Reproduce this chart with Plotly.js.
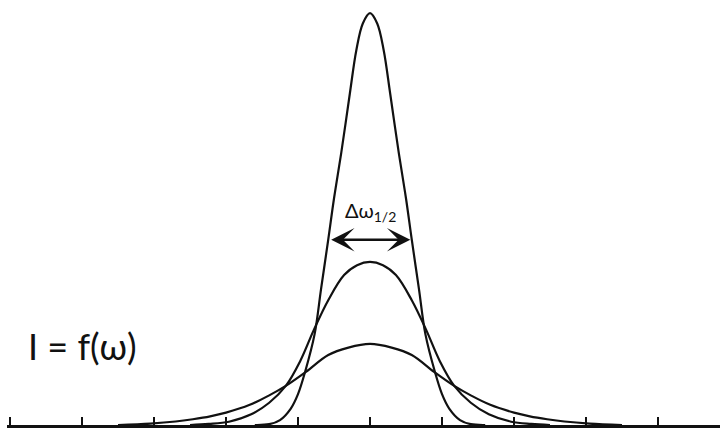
<!DOCTYPE html>
<html>
<head>
<meta charset="utf-8">
<script src="https://cdn.plot.ly/plotly-3.0.1.min.js"></script>
<style>
  html, body { margin: 0; padding: 0; background: #ffffff; }
  #chart { width: 720px; height: 429px; }
</style>
</head>
<body>
<div id="chart"></div>
<script>
// Frequency axis tick positions (no labels in the original)
const tickValues = [0, 1, 2, 3, 4, 5, 6, 7, 8, 9];

// Narrow, tall line profile
const narrowX = [3.4, 3.6, 3.75, 3.9, 4.0, 4.1, 4.23, 4.32, 4.42, 4.5, 4.6, 4.72, 4.81, 4.9, 5.0,
                 5.1, 5.19, 5.28, 5.4, 5.5, 5.58, 5.68, 5.77, 5.9, 6.0, 6.1, 6.25, 6.4, 6.6];
const narrowY = [0, 0.2, 1.2, 4, 7.5, 13, 22, 33, 45, 55, 66, 80.5, 91, 97.5, 100,
                 97.5, 91, 80.5, 66, 55, 45, 33, 22, 13, 7.5, 4, 1.2, 0.2, 0];

// Medium line profile
const mediumX = [2.5, 2.76, 3.04, 3.35, 3.6, 3.83, 4.03, 4.22, 4.42, 4.64, 4.82, 5.0,
                 5.18, 5.36, 5.58, 5.78, 5.97, 6.17, 6.4, 6.65, 6.96, 7.24, 7.5];
const mediumY = [0, 0.25, 0.8, 2.6, 5.4, 9.5, 15.5, 23.1, 30.3, 36.4, 38.8, 39.6,
                 38.8, 36.4, 30.3, 23.1, 15.5, 9.5, 5.4, 2.6, 0.8, 0.25, 0];

// Broad, low line profile
const broadX = [1.5, 1.95, 2.3, 2.54, 2.78, 3.0, 3.33, 3.6, 3.83, 4.11, 4.42, 4.7, 5.0,
                5.3, 5.58, 5.89, 6.17, 6.4, 6.67, 7.0, 7.22, 7.46, 7.7, 8.05, 8.5];
const broadY = [0, 0.35, 0.85, 1.4, 2.1, 3.0, 4.9, 7.2, 9.5, 12.9, 17.0, 18.8, 19.7,
                18.8, 17.0, 12.9, 9.5, 7.2, 4.9, 3.0, 2.1, 1.4, 0.85, 0.35, 0];

// Half-width marker (ends of the double arrow) and labels
const halfWidthLeft = 4.44;
const halfWidthRight = 5.56;
const halfWidthLevel = 45;
const widthLabel = 'Δω<sub>1/2</sub>';
const funcLabel = 'I = f(ω)';

const lineStyle = { color: '#111111', width: 2.2, shape: 'spline', smoothing: 1 };

const traces = [
  { x: broadX, y: broadY, type: 'scatter', mode: 'lines', line: lineStyle, hoverinfo: 'skip' },
  { x: mediumX, y: mediumY, type: 'scatter', mode: 'lines', line: lineStyle, hoverinfo: 'skip' },
  { x: narrowX, y: narrowY, type: 'scatter', mode: 'lines', line: lineStyle, hoverinfo: 'skip' }
];

const layout = {
  width: 720,
  height: 429,
  margin: { l: 7, r: 0, t: 0, b: 4, pad: 0 },
  paper_bgcolor: '#ffffff',
  plot_bgcolor: '#ffffff',
  showlegend: false,
  font: { family: 'Lato, "Open Sans", sans-serif', color: '#111111' },
  xaxis: {
    range: [-0.0417, 9.861],
    showgrid: false,
    zeroline: false,
    showline: true,
    linecolor: '#111111',
    linewidth: 2.6,
    ticks: 'inside',
    ticklen: 8,
    tickwidth: 1.6,
    tickcolor: '#111111',
    tickmode: 'array',
    tickvals: tickValues,
    showticklabels: false,
    fixedrange: true
  },
  yaxis: {
    range: [0, 103.2],
    showgrid: false,
    zeroline: false,
    showline: false,
    ticks: '',
    showticklabels: false,
    fixedrange: true
  },
  annotations: [
    {
      x: halfWidthRight, y: halfWidthLevel, ax: halfWidthLeft, ay: halfWidthLevel,
      xref: 'x', yref: 'y', axref: 'x', ayref: 'y',
      text: '', showarrow: true,
      arrowhead: 3, startarrowhead: 3, arrowside: 'end+start',
      arrowsize: 1.5, startarrowsize: 1.5, arrowwidth: 2.6, arrowcolor: '#111111',
      standoff: 0, startstandoff: 0
    },
    {
      x: 5.0, y: 51.8, xref: 'x', yref: 'y',
      text: widthLabel, showarrow: false,
      xanchor: 'center', yanchor: 'middle',
      font: { size: 20, color: '#111111', family: 'Lato, "Open Sans", sans-serif' }
    },
    {
      x: 0.22, y: 19.3, xref: 'x', yref: 'y',
      text: funcLabel, showarrow: false,
      xanchor: 'left', yanchor: 'middle',
      font: { size: 36, color: '#111111', family: 'Lato, "Open Sans", sans-serif' }
    }
  ]
};

Plotly.newPlot('chart', traces, layout, { displayModeBar: false, staticPlot: true });
</script>
</body>
</html>
